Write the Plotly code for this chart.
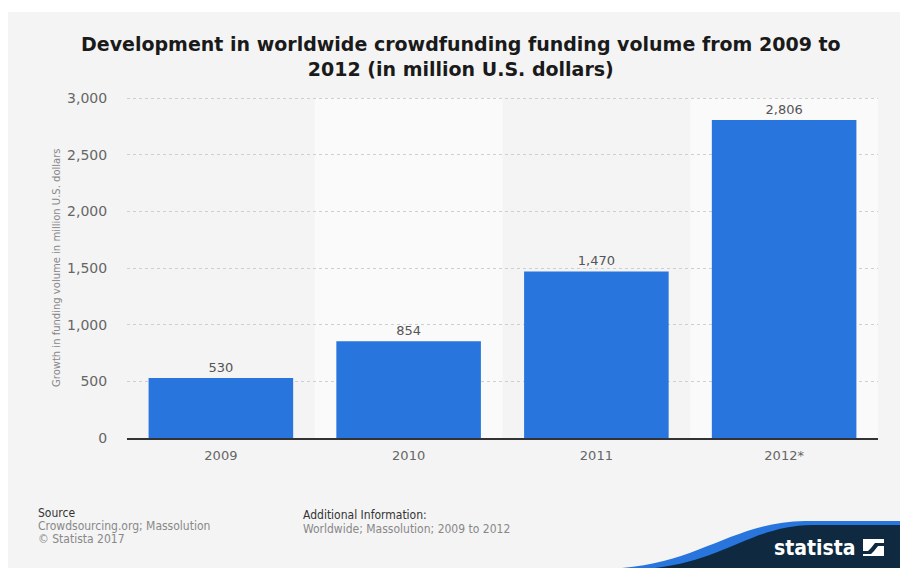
import plotly.graph_objects as go

# Funding volume by year (million U.S. dollars)
years = ["2009", "2010", "2011", "2012*"]
volume = [530, 854, 1470, 2806]
value_labels = ["530", "854", "1,470", "2,806"]
y_ticks = [0, 500, 1000, 1500, 2000, 2500, 3000]
y_tick_text = ["0", "500", "1,000", "1,500", "2,000", "2,500", "3,000"]

W, H = 904, 568
L, R, T, B = 127, 878, 97, 438   # plot area in pixels


def px(x):
    return (x - L) / (R - L)


def py(y):
    return (B - y) / (B - T)


BAR = "#2876dd"
TXT = "#555555"
FONT = "DejaVu Sans"
COND = "DejaVu Sans Condensed"

fig = go.Figure()
fig.add_trace(go.Bar(
    x=years, y=volume, marker=dict(color=BAR, line=dict(width=0)),
    width=0.77, text=value_labels, textposition="outside",
    textfont=dict(family=FONT, size=13, color=TXT), cliponaxis=False,
    hoverinfo="skip",
))

shapes = []
# grey card behind everything
shapes.append(dict(type="rect", xref="paper", yref="paper", layer="below",
                   x0=px(8), x1=px(900), y0=py(568), y1=py(12),
                   fillcolor="#f4f4f4", line=dict(width=0)))
# alternating lighter column bands
for i, _ in enumerate(years):
    if i % 2 == 1:
        shapes.append(dict(type="rect", xref="x", yref="y", layer="below",
                           x0=i - 0.5, x1=i + 0.5, y0=0, y1=3000,
                           fillcolor="#fafafa", line=dict(width=0)))


def pt(a, b):
    return f"{px(a):.4f},{py(b):.4f}"


def path_from(segments):
    d = ""
    for cmd, coords in segments:
        d += cmd + " ".join(pt(a, b) for a, b in coords) + " "
    return d + "Z"


# brand wave in the lower right corner
blue_wave = path_from([("M", [(622, 568)]),
                       ("C", [(700, 562), (735, 522), (805, 521)]),
                       ("L", [(900, 521)]), ("L", [(900, 568)])])
dark_wave = path_from([("M", [(655, 568)]),
                       ("C", [(725, 560), (752, 526), (812, 525)]),
                       ("L", [(900, 525)]), ("L", [(900, 568)])])
shapes.append(dict(type="path", xref="paper", yref="paper", path=blue_wave,
                   fillcolor="#2876dd", line=dict(width=0), layer="above"))
shapes.append(dict(type="path", xref="paper", yref="paper", path=dark_wave,
                   fillcolor="#0f2a40", line=dict(width=0), layer="above"))
# logo mark: white square crossed by a dark swoosh
shapes.append(dict(type="rect", xref="paper", yref="paper", layer="above",
                   x0=px(863), x1=px(884), y0=py(556), y1=py(539),
                   fillcolor="white", line=dict(width=0)))
mark = path_from([("M", [(863, 551)]), ("L", [(868, 551)]), ("L", [(871, 548)]),
                  ("L", [(875, 543)]), ("L", [(884, 543)]), ("L", [(884, 546)]),
                  ("L", [(878, 546)]), ("L", [(874, 551)]), ("L", [(871, 554)]),
                  ("L", [(863, 554)])])
shapes.append(dict(type="path", xref="paper", yref="paper", path=mark,
                   fillcolor="#0f2a40", line=dict(width=0), layer="above"))

annotations = [
    dict(text="<b>Development in worldwide crowdfunding funding volume from 2009 to<br>2012 (in million U.S. dollars)</b>",
         xref="paper", yref="paper", x=px(461), y=py(56), xanchor="center", yanchor="middle",
         showarrow=False, font=dict(family=FONT, size=19, color="#1a1a1a")),
    dict(text="Growth in funding volume in million U.S. dollars", textangle=-90,
         xref="paper", yref="paper", x=px(56), y=py(268), xanchor="center", yanchor="middle",
         showarrow=False, font=dict(family=FONT, size=10, color="#888888")),
    dict(text="Source", xref="paper", yref="paper", x=px(36), y=py(513),
         xanchor="left", yanchor="middle", showarrow=False,
         font=dict(family=COND, size=12, color="#333333")),
    dict(text="Crowdsourcing.org; Massolution", xref="paper", yref="paper", x=px(36), y=py(526),
         xanchor="left", yanchor="middle", showarrow=False,
         font=dict(family=COND, size=12, color="#888888")),
    dict(text="© Statista 2017", xref="paper", yref="paper", x=px(36), y=py(539),
         xanchor="left", yanchor="middle", showarrow=False,
         font=dict(family=COND, size=12, color="#888888")),
    dict(text="Additional Information:", xref="paper", yref="paper", x=px(301), y=py(515),
         xanchor="left", yanchor="middle", showarrow=False,
         font=dict(family=COND, size=12, color="#333333")),
    dict(text="Worldwide; Massolution; 2009 to 2012", xref="paper", yref="paper", x=px(301), y=py(529),
         xanchor="left", yanchor="middle", showarrow=False,
         font=dict(family=COND, size=12, color="#888888")),
    dict(text="<b>statista</b>", xref="paper", yref="paper", x=px(858), y=py(548),
         xanchor="right", yanchor="middle", showarrow=False,
         font=dict(family=COND, size=21, color="white")),
]

fig.update_layout(
    width=W, height=H,
    margin=dict(l=L, r=W - R, t=T, b=H - B, autoexpand=False),
    paper_bgcolor="white", plot_bgcolor="rgba(0,0,0,0)",
    showlegend=False, bargap=0.23,
    shapes=shapes, annotations=annotations,
    xaxis=dict(showgrid=False, showline=True, linecolor="#333333", linewidth=1.5,
               ticks="outside", ticklen=5, tickcolor="rgba(0,0,0,0)",
               tickfont=dict(family=FONT, size=13, color="#666666"), fixedrange=True),
    yaxis=dict(range=[0, 3009], tickvals=y_ticks, ticktext=y_tick_text,
               showgrid=True, gridcolor="#cfcfcf", griddash="dot", gridwidth=1,
               zeroline=False, showline=False,
               ticks="outside", ticklen=16, tickcolor="rgba(0,0,0,0)",
               tickfont=dict(family=FONT, size=14, color="#666666"), fixedrange=True),
)

fig.write_html("out.html")
